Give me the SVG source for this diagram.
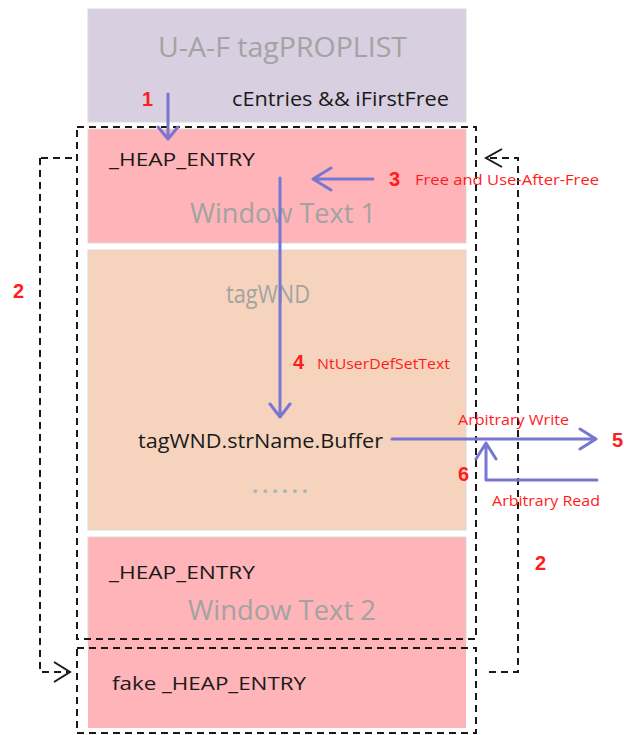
<svg xmlns="http://www.w3.org/2000/svg" width="624" height="735" viewBox="0 0 624 735">
<defs>
<style>
.box{stroke:#d9d9d9;stroke-width:1}
.t{font-family:"Open Sans","Liberation Sans",sans-serif}
.gray{fill:#a3a3a3}
.blk{fill:#1a1a1a}
.red{fill:#ff1c1c}
.num{font-family:"Liberation Sans",sans-serif;font-weight:bold;fill:#ff1c1c;font-size:20px}
.blue{stroke:#7777d2;stroke-width:3;fill:none;stroke-linecap:round;stroke-linejoin:round}
.dash{stroke:#1a1a1a;stroke-width:2;fill:none;stroke-dasharray:7 5}
.head{stroke:#1a1a1a;stroke-width:2;fill:none}
</style>
</defs>
<rect width="624" height="735" fill="#ffffff"/>
<g id="proplist">
<rect class="box" x="88" y="9" width="378" height="113" fill="#d8cfe1"/>
<text class="t gray" x="158" y="57" font-size="27" textLength="249" lengthAdjust="spacingAndGlyphs">U-A-F tagPROPLIST</text>
<text class="t blk" x="232" y="106" font-size="20" textLength="217" lengthAdjust="spacingAndGlyphs">cEntries &amp;&amp; iFirstFree</text>
</g>
<g id="heap1">
<rect class="box" x="88" y="129" width="378" height="114" fill="#feb4b8"/>
<text class="t blk" x="109" y="166" font-size="19" textLength="146" lengthAdjust="spacingAndGlyphs">_HEAP_ENTRY</text>
<text class="t gray" x="190" y="223" font-size="27" textLength="186" lengthAdjust="spacingAndGlyphs">Window Text 1</text>
</g>
<g id="tagwnd">
<rect class="box" x="88" y="250" width="378" height="280" fill="#f5d3bc"/>
<text class="t gray" x="226" y="303" font-size="26" textLength="84" lengthAdjust="spacingAndGlyphs">tagWND</text>
<text class="t blk" x="138" y="448" font-size="20" textLength="245" lengthAdjust="spacingAndGlyphs">tagWND.strName.Buffer</text>
<text class="t" x="252" y="493" font-size="22" font-weight="bold" fill="#a9b2bb" textLength="56" lengthAdjust="spacing">......</text>
</g>
<g id="heap2">
<rect class="box" x="88" y="537" width="378" height="106" fill="#feb4b8"/>
<text class="t blk" x="109" y="579" font-size="19" textLength="146" lengthAdjust="spacingAndGlyphs">_HEAP_ENTRY</text>
<text class="t gray" x="188" y="620" font-size="27" textLength="188" lengthAdjust="spacingAndGlyphs">Window Text 2</text>
</g>
<g id="fakeheap">
<rect x="88" y="642" width="378" height="86" fill="#feb4b8"/>
<text class="t blk" x="112" y="690" font-size="19" textLength="194" lengthAdjust="spacingAndGlyphs">fake _HEAP_ENTRY</text>
</g>
<g id="connectors">
<rect class="dash" x="77" y="127" width="399" height="512"/>
<rect class="dash" x="77" y="648" width="399" height="85"/>
<path class="dash" d="M72 158 H40" stroke="#8a8a8a"/>
<path class="dash" d="M40 158 V672 H68"/>
<path class="head" d="M54 662 L70 672 L54 682"/>
<path class="dash" d="M489 672 H518 V158 H488"/>
<path class="head" d="M502 149 L486 158 L502 167"/>
<path class="blue" d="M168 94 V139 M158 127 L168 139 L178 127"/>
<path class="blue" d="M373 179 H313 M331 168 L313 179 L331 190"/>
<path class="blue" d="M280 178 V417 M270 404 L280 417 L290 404"/>
<path class="blue" d="M392 439 H596 M580 429 L596 439 L580 449"/>
<path class="blue" d="M597 480 H486 V443 M476 459 L486 443 L496 459"/>
</g>
<g id="labels">
<text class="num" x="142" y="106">1</text>
<text class="num" x="13" y="298">2</text>
<text class="num" x="535" y="570">2</text>
<text class="num" x="389" y="186">3</text>
<text class="t red" x="415" y="185" font-size="15" textLength="184" lengthAdjust="spacingAndGlyphs">Free and Use-After-Free</text>
<text class="num" x="293" y="369">4</text>
<text class="t red" x="317" y="369" font-size="15" textLength="133" lengthAdjust="spacingAndGlyphs">NtUserDefSetText</text>
<text class="t red" x="458" y="425" font-size="15" textLength="111" lengthAdjust="spacingAndGlyphs">Arbitrary Write</text>
<text class="num" x="612" y="447">5</text>
<text class="num" x="458" y="481">6</text>
<text class="t red" x="492" y="506" font-size="15" textLength="108" lengthAdjust="spacingAndGlyphs">Arbitrary Read</text>
</g>
</svg>
